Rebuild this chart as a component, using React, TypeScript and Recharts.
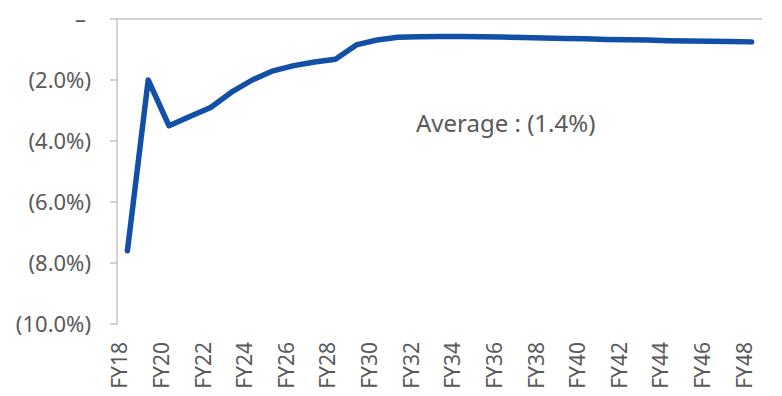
import React from "react";
import { LineChart, Line, XAxis, YAxis, ReferenceLine } from "recharts";

// fiscal years FY18..FY48
const years: string[] = [
  "FY18", "FY19", "FY20", "FY21", "FY22", "FY23", "FY24", "FY25", "FY26", "FY27", "FY28",
  "FY29", "FY30", "FY31", "FY32", "FY33", "FY34", "FY35", "FY36", "FY37", "FY38",
  "FY39", "FY40", "FY41", "FY42", "FY43", "FY44", "FY45", "FY46", "FY47", "FY48",
];

// growth rate in %, negative values
const growth: number[] = [
  -7.6, -2.0, -3.5, -3.2, -2.9, -2.4, -2.0, -1.7, -1.53, -1.41, -1.32,
  -0.85, -0.69, -0.6, -0.58, -0.57, -0.57, -0.58, -0.59, -0.61, -0.62,
  -0.64, -0.65, -0.67, -0.68, -0.69, -0.71, -0.72, -0.73, -0.74, -0.75,
];

const yTicks: number[] = [-10, -8, -6, -4, -2, 0];

const data = years.map((fy, i) => ({ fy, growth: growth[i] }));
const average = growth.reduce((s, v) => s + v, 0) / growth.length;

const FONT = "'Noto Sans', sans-serif";
const TEXT = "#595959";
const AXIS = "#a6a6a6";

const pct = (v: number) => (v === 0 ? "–" : `(${Math.abs(v).toFixed(1)}%)`);

const YTick = ({ x, y, payload }: any) => (
  <text
    x={payload.value === 0 ? x - 5 : x}
    y={y}
    dy="0.355em"
    textAnchor="end"
    fill={TEXT}
    fontSize={22}
    fontFamily={FONT}
  >
    {pct(payload.value)}
  </text>
);

// labels are turned to read bottom-to-top
const XTick = ({ x, y, payload }: any) => (
  <text
    x={x}
    y={y}
    transform={`rotate(-90, ${x}, ${y})`}
    textAnchor="end"
    fill={TEXT}
    fontSize={21}
    fontFamily={FONT}
  >
    {payload.value}
  </text>
);

export default function App() {
  return (
    <div style={{ position: "absolute", left: 0, top: 0 }}>
      <LineChart
        width={782}
        height={396}
        data={data}
        margin={{ top: 19, right: 20, bottom: 0, left: 0 }}
      >
        <XAxis
          dataKey="fy"
          interval={1}
          padding={{ left: 10.4, right: 10.4 }}
          axisLine={false}
          tickLine={false}
          tickSize={0}
          tickMargin={18}
          height={72}
          tick={<XTick />}
        />
        <YAxis
          domain={[-10, 0]}
          ticks={yTicks}
          width={117}
          stroke={AXIS}
          tickSize={7}
          tickMargin={19}
          tick={<YTick />}
        />
        <ReferenceLine y={0} stroke={AXIS} strokeWidth={1} />
        <Line
          type="linear"
          dataKey="growth"
          stroke="#1150a6"
          strokeWidth={5.5}
          strokeLinecap="round"
          strokeLinejoin="round"
          dot={false}
          activeDot={false}
          isAnimationActive={false}
        />
        <text x={416} y={132} fill={TEXT} fontSize={24} fontFamily={FONT}>
          {`Average : ${pct(average)}`}
        </text>
      </LineChart>
    </div>
  );
}
